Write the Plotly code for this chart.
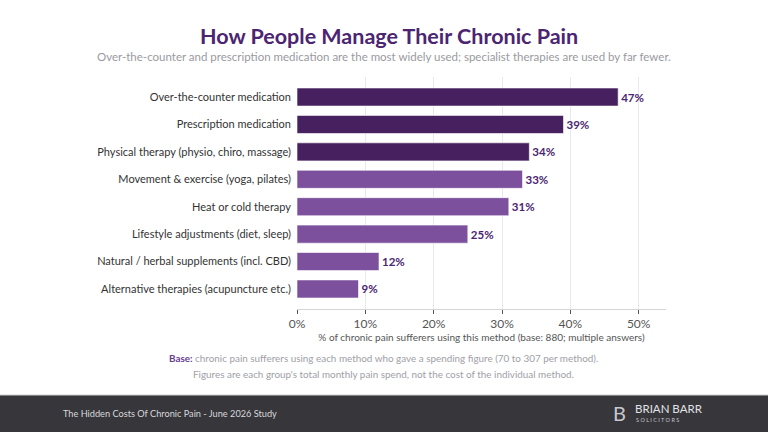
import plotly.graph_objects as go

# survey data
methods = [
    "Over-the-counter medication",
    "Prescription medication",
    "Physical therapy (physio, chiro, massage)",
    "Movement & exercise (yoga, pilates)",
    "Heat or cold therapy",
    "Lifestyle adjustments (diet, sleep)",
    "Natural / herbal supplements (incl. CBD)",
    "Alternative therapies (acupuncture etc.)",
]
share_pct = [47, 39, 34, 33, 31, 25, 12, 9]
x_ticks = [0, 10, 20, 30, 40, 50]
x_tick_labels = ["0%", "10%", "20%", "30%", "40%", "50%"]
top_n = 3  # top three drawn darker

DARK = "#47205F"
LIGHT = "#7C509D"
TITLE_C = "#4B2572"
FONT = "Lato"

W, H = 768, 432
L, R, T, B = 297, 102, 77, 123
plot_h = H - T - B
plot_w = W - L - R


def py(y_px):
    # pixel row -> paper y
    return (H - B - y_px) / plot_h


def px(x_px):
    return (x_px - L) / plot_w


colors = [DARK if i < top_n else LIGHT for i in range(len(methods))]

fig = go.Figure()
fig.add_trace(go.Bar(
    x=share_pct, y=methods, orientation="h",
    marker=dict(color=colors, line=dict(color="rgba(255,255,255,0.6)", width=1)),
    width=0.66,
    text=[f"{v}%" for v in share_pct], textposition="outside",
    textfont=dict(family=FONT, size=11.5, color=TITLE_C, weight="bold"),
    cliponaxis=False, hoverinfo="skip",
))

fig.update_xaxes(
    range=[0, 54], tickvals=x_ticks, ticktext=x_tick_labels,
    showgrid=True, gridcolor="#E9E8EE", gridwidth=1,
    showline=True, linecolor="#D5D5D8", linewidth=1,
    ticks="outside", ticklen=4, tickcolor="#555",
    tickfont=dict(family=FONT, size=12, color="#555"),
    zeroline=False,
    title=dict(text="% of chronic pain sufferers using this method (base: 880; multiple answers)",
               font=dict(family=FONT, size=10, color="#555"), standoff=2),
)
fig.update_yaxes(
    categoryorder="array", categoryarray=methods,
    range=[len(methods) - 1 + 0.73, -0.73],
    showgrid=False, showline=False, ticks="", ticklabelstandoff=5,
    tickfont=dict(family=FONT, size=11, color="#333"),
)

shapes = [
    dict(type="rect", xref="paper", yref="paper", x0=px(0), x1=px(W),
         y0=py(395), y1=py(H), fillcolor="#36363B", line_width=0, layer="below"),
    dict(type="line", xref="paper", yref="paper", x0=px(0), x1=px(W),
         y0=py(395), y1=py(395), line=dict(color="#CFCFD2", width=1)),
]

ann = [
    dict(text="<b>How People Manage Their Chronic Pain</b>", x=px(389), y=py(36),
         font=dict(family=FONT, size=21.5, color=TITLE_C)),
    dict(text="Over-the-counter and prescription medication are the most widely used; "
              "specialist therapies are used by far fewer.",
         x=px(384), y=py(56), font=dict(family=FONT, size=11.5, color="#9A9AA0")),
    dict(text="<b><span style='color:#6A3D8F'>Base:</span></b> chronic pain sufferers using each method "
              "who gave a spending figure (70 to 307 per method).",
         x=px(383), y=py(358), font=dict(family=FONT, size=9.9, color="#A0A0A5")),
    dict(text="Figures are each group's total monthly pain spend, not the cost of the individual method.",
         x=px(383), y=py(374), font=dict(family=FONT, size=9.9, color="#A0A0A5")),
    dict(text="The Hidden Costs Of Chronic Pain - June 2026 Study", x=px(61), y=py(413),
         xanchor="left", font=dict(family=FONT, size=9.2, color="#D8D8DC")),
    dict(text="B", x=px(619), y=py(413),
         font=dict(family=FONT, size=20, color="#C8C8CC")),
    dict(text="BRIAN BARR", x=px(633), y=py(409), xanchor="left",
         font=dict(family=FONT, size=11.5, color="#E2E2E6")),
    dict(text="S O L I C I T O R S", x=px(634), y=py(420), xanchor="left",
         font=dict(family=FONT, size=5.5, color="#C8C8CC")),
]
for a in ann:
    a.setdefault("xanchor", "center")
    a.update(xref="paper", yref="paper", yanchor="middle", showarrow=False)

fig.update_layout(
    width=W, height=H, margin=dict(l=L, r=R, t=T, b=B, autoexpand=False),
    paper_bgcolor="white", plot_bgcolor="white",
    showlegend=False, bargap=0.34,
    shapes=shapes, annotations=ann,
    font=dict(family=FONT),
)

# drop the page's default body margin so the chart sits at the window corner
fig.write_html("out.html", config={"displayModeBar": False},
               post_script="document.body.style.margin='0';")
